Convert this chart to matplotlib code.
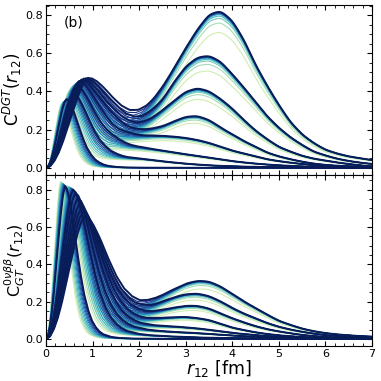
import numpy as np
import matplotlib
matplotlib.use("Agg")
from matplotlib import pyplot as plt
from matplotlib.ticker import MultipleLocator

# --- data ------------------------------------------------------------------
# common short-range shape, x = r12 / (position of first peak)
shape_x = [0, 0.1, 0.2, 0.3, 0.4, 0.5, 0.6, 0.7, 0.8, 0.9, 1.0, 1.1, 1.2, 1.3, 1.4,
           1.5, 1.6, 1.8, 2.0, 2.2, 2.4, 2.6, 2.8, 3.0, 3.4, 3.8, 4.5, 6.0, 30.0]
shape_y = [0, 0.02, 0.08, 0.17, 0.29, 0.43, 0.58, 0.72, 0.85, 0.95, 1.0, 0.98, 0.93, 0.86, 0.78,
           0.69, 0.60, 0.43, 0.29, 0.19, 0.12, 0.077, 0.048, 0.03, 0.013, 0.006, 0.002, 0.0, 0.0]

# first peak (position, height) of the darkest curve of each family A..H
upper_peak_r = [0.90, 0.86, 0.81, 0.76, 0.71, 0.65, 0.58, 0.44]
upper_peak_h = [0.465, 0.465, 0.465, 0.46, 0.45, 0.43, 0.39, 0.36]
lower_peak_r = [0.84, 0.80, 0.76, 0.72, 0.68, 0.63, 0.58, 0.41]
lower_peak_h = [0.66, 0.68, 0.70, 0.72, 0.75, 0.78, 0.80, 0.82]

# long-range part of each family, sampled at r12 = 0, 0.25, ..., 7 fm
r_grid = np.linspace(0, 7, 29)
bump_up_A = [0, 0, 0, 0, 0.01, 0.05, 0.10, 0.155, 0.22, 0.30, 0.40, 0.51, 0.62, 0.72, 0.80,
             0.82, 0.77, 0.67, 0.54, 0.43, 0.33, 0.24, 0.175, 0.13, 0.095, 0.075, 0.06, 0.05, 0.04]
bump_up_B = [0, 0, 0, 0, 0.01, 0.05, 0.11, 0.155, 0.20, 0.265, 0.34, 0.44, 0.525, 0.575, 0.585,
             0.555, 0.49, 0.42, 0.345, 0.27, 0.21, 0.16, 0.12, 0.085, 0.065, 0.048, 0.036, 0.027, 0.02]
bump_up_C = [0, 0, 0, 0, 0.01, 0.06, 0.12, 0.155, 0.19, 0.235, 0.29, 0.345, 0.395, 0.415, 0.40,
             0.36, 0.31, 0.25, 0.195, 0.15, 0.11, 0.085, 0.063, 0.048, 0.038, 0.028, 0.02, 0.013, 0.007]
bump_up_D = [0, 0, 0, 0, 0.02, 0.08, 0.13, 0.15, 0.17, 0.19, 0.21, 0.24, 0.265, 0.27, 0.25,
             0.21, 0.175, 0.14, 0.11, 0.08, 0.06, 0.045, 0.032, 0.022, 0.015, 0.011, 0.008, 0.006, 0.004]
bump_up_E = [0, 0, 0, 0.005, 0.03, 0.08, 0.11, 0.143, 0.152, 0.16, 0.163, 0.161, 0.155, 0.145, 0.13,
             0.11, 0.09, 0.075, 0.06, 0.045, 0.035, 0.027, 0.02, 0.014, 0.01, 0.007, 0.005, 0.003, 0.002]
bump_up_F = [0, 0, 0, 0.005, 0.03, 0.07, 0.10, 0.10, 0.10, 0.095, 0.088, 0.079, 0.07, 0.062, 0.053,
             0.044, 0.035, 0.028, 0.022, 0.017, 0.013, 0.01, 0.007, 0.005, 0.004, 0.003, 0.002, 0.001, 0.001]
bump_up_G = [0, 0, 0, 0.005, 0.02, 0.04, 0.045, 0.045, 0.045, 0.04, 0.033, 0.027, 0.021, 0.017, 0.013,
             0.01, 0.008, 0.006, 0.005, 0.004, 0.003, 0.002, 0.002, 0.001, 0.001, 0, 0, 0, 0]
bump_up_H = [0] * 29

bump_lo_A = [0, 0, 0, 0, 0.0, 0.02, 0.05, 0.09, 0.125, 0.17, 0.215, 0.255, 0.29, 0.308, 0.305,
             0.28, 0.24, 0.20, 0.165, 0.13, 0.097, 0.075, 0.055, 0.041, 0.031, 0.024, 0.019, 0.015, 0.012]
bump_lo_B = [0, 0, 0, 0, 0.0, 0.03, 0.06, 0.095, 0.122, 0.15, 0.185, 0.215, 0.235, 0.24, 0.228,
             0.20, 0.165, 0.135, 0.11, 0.085, 0.065, 0.05, 0.038, 0.028, 0.02, 0.015, 0.012, 0.009, 0.007]
bump_lo_C = [0, 0, 0, 0, 0.01, 0.04, 0.07, 0.095, 0.11, 0.125, 0.145, 0.162, 0.174, 0.175, 0.162,
             0.135, 0.11, 0.088, 0.068, 0.052, 0.04, 0.03, 0.021, 0.015, 0.01, 0.007, 0.005, 0.004, 0.003]
bump_lo_D = [0, 0, 0, 0.005, 0.02, 0.05, 0.07, 0.08, 0.085, 0.095, 0.105, 0.112, 0.115, 0.11, 0.10,
             0.08, 0.06, 0.047, 0.035, 0.026, 0.019, 0.014, 0.01, 0.007, 0.005, 0.003, 0.002, 0.001, 0.001]
bump_lo_E = [0, 0, 0, 0.005, 0.02, 0.045, 0.06, 0.063, 0.063, 0.064, 0.064, 0.063, 0.06, 0.055, 0.048,
             0.04, 0.032, 0.026, 0.02, 0.015, 0.011, 0.008, 0.006, 0.004, 0.003, 0.002, 0.001, 0.001, 0]
bump_lo_F = [0, 0, 0, 0.005, 0.015, 0.035, 0.042, 0.043, 0.042, 0.04, 0.038, 0.035, 0.033, 0.03, 0.026,
             0.022, 0.018, 0.014, 0.011, 0.008, 0.006, 0.004, 0.003, 0.002, 0.002, 0.001, 0.001, 0, 0]
bump_lo_G = [0, 0, 0, 0.003, 0.01, 0.018, 0.02, 0.019, 0.017, 0.015, 0.013, 0.011, 0.009, 0.007, 0.006,
             0.005, 0.004, 0.003, 0.002, 0.002, 0.001, 0.001, 0, 0, 0, 0, 0, 0, 0]
bump_lo_H = [0] * 29

upper_bumps = [bump_up_A, bump_up_B, bump_up_C, bump_up_D, bump_up_E, bump_up_F, bump_up_G, bump_up_H]
lower_bumps = [bump_lo_A, bump_lo_B, bump_lo_C, bump_lo_D, bump_lo_E, bump_lo_F, bump_lo_G, bump_lo_H]

# shades inside a family, light -> dark
tail_scale = [0.87, 0.93, 0.96, 0.975, 0.985, 0.99, 0.993, 0.996, 0.998, 1.0]
peak_scale = [0.75, 0.78, 0.81, 0.84, 0.87, 0.90, 0.925, 0.95, 0.975, 1.0]
height_up = [0.93, 0.94, 0.95, 0.96, 0.97, 0.975, 0.98, 0.99, 0.995, 1.0]
height_lo = [1.03, 1.027, 1.024, 1.021, 1.018, 1.015, 1.012, 1.008, 1.004, 1.0]

# --- figure ------------------------------------------------------------------
plt.rcParams["font.family"] = "DejaVu Sans"
fig = plt.figure(figsize=(3.81, 3.81), dpi=100)
ax1 = fig.add_axes([0.121, 0.541, 0.855, 0.447])
ax2 = fig.add_axes([0.121, 0.092, 0.855, 0.449], sharex=ax1)

cmap = plt.get_cmap("YlGnBu")
shade_colors = cmap(np.linspace(0.22, 1.0, len(tail_scale)))
r = np.linspace(0, 7, 701)
# small gaussian kernel to round off the corners of the sampled tails
kx = np.arange(-12, 13) * (r[1] - r[0])
kern = np.exp(-0.5 * (kx / 0.07) ** 2)
kern /= kern.sum()


def tail(bump):
    t = np.interp(r, r_grid, bump)
    padded = np.concatenate([np.full(12, t[0]), t, np.full(12, t[-1])])
    return np.convolve(padded, kern, mode="valid")


def draw_panel(ax, peak_r, peak_h, bumps, height_scale):
    tails = [tail(b) for b in bumps]
    for k in range(len(tail_scale)):
        lw = 1.4 if k == len(tail_scale) - 1 else 0.8
        for f in range(len(bumps)):
            p = peak_r[f] * peak_scale[k]
            h = peak_h[f] * height_scale[k]
            y = h * np.interp(r / p, shape_x, shape_y) + tail_scale[k] * tails[f]
            ax.plot(r, y, color=shade_colors[k], lw=lw)


draw_panel(ax1, upper_peak_r, upper_peak_h, upper_bumps, height_up)
draw_panel(ax2, lower_peak_r, lower_peak_h, lower_bumps, height_lo)

ax1.set_xlim(0, 7)
ax1.set_ylim(-0.037, 0.855)
ax2.set_ylim(-0.038, 0.88)

for ax in (ax1, ax2):
    ax.xaxis.set_major_locator(MultipleLocator(1))
    ax.xaxis.set_minor_locator(MultipleLocator(0.2))
    ax.yaxis.set_major_locator(MultipleLocator(0.2))
    ax.yaxis.set_minor_locator(MultipleLocator(0.05))
    ax.tick_params(which="both", direction="in", top=True, right=True, labelsize=8)
    ax.tick_params(which="major", length=3.5, width=0.8)
    ax.tick_params(which="minor", length=2, width=0.6)
    ax.tick_params(axis="y", pad=2)
    ax.tick_params(axis="x", pad=2)
    for s in ax.spines.values():
        s.set_linewidth(0.8)

ax1.tick_params(labelbottom=False)
ax1.text(0.055, 0.935, "(b)", transform=ax1.transAxes, fontsize=10, va="top")
ax1.set_ylabel(r"C$^{DGT}$($r_{12}$)", fontsize=12)
ax2.set_ylabel(r"C$_{GT}^{0\nu\beta\beta}$($r_{12}$)", fontsize=11.5)
ax1.yaxis.set_label_coords(-0.068, 0.5)
ax2.yaxis.set_label_coords(-0.058, 0.5)
ax2.set_xlabel(r"$r_{12}$ [fm]", fontsize=12.5)
ax2.xaxis.set_label_coords(0.53, -0.068)

fig.savefig("out.png", dpi=100)
